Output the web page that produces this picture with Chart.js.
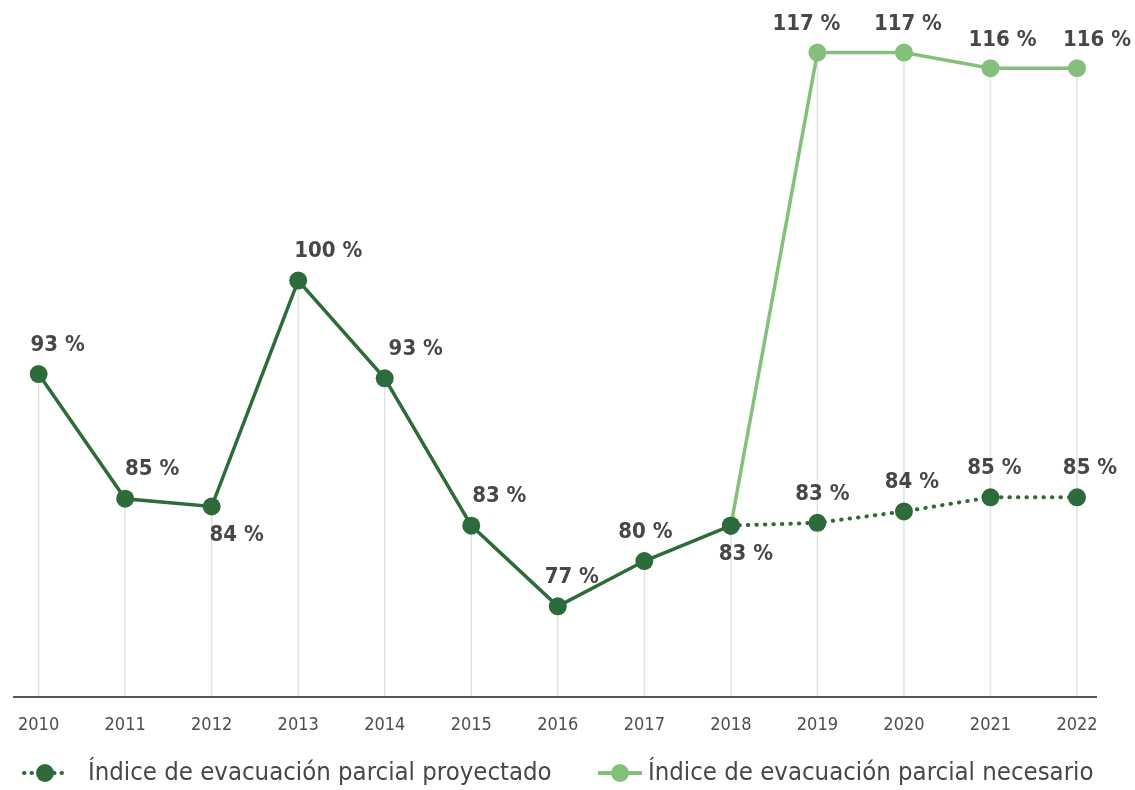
<!DOCTYPE html>
<html>
<head>
<meta charset="utf-8">
<script src="https://cdn.jsdelivr.net/npm/chart.js@4.4.1/dist/chart.umd.min.js"></script>
<style>
  html, body { margin: 0; padding: 0; background: #fff; }
  #wrap { width: 1135px; height: 790px; }
</style>
</head>
<body>
<div id="wrap"><canvas id="chart" width="1135" height="790"></canvas></div>
<script>
// Years on the x axis
const years = ["2010", "2011", "2012", "2013", "2014", "2015", "2016", "2017", "2018", "2019", "2020", "2021", "2022"];

// Plotted values and the printed labels
const projected = [93.4, 84.6, 84.05, 100, 93.1, 82.7, 77, 80.2, 82.7, 82.9, 83.7, 84.7, 84.7];
const projectedLabels = [93, 85, 84, 100, 93, 83, 77, 80, 83, 83, 84, 85, 85];
const required = [null, null, null, null, null, null, null, null, 82.7, 116.1, 116.1, 115.0, 115.0];
const requiredLabels = [null, null, null, null, null, null, null, null, null, 117, 117, 116, 116];

// Year from which the projected line turns dotted
const splitIndex = 8;

const legendNames = ["Índice de evacuación parcial proyectado", "Índice de evacuación parcial necesario"];

const DARK = "#2e6b3b";
const LIGHT = "#84c07b";
const TEXT = "#474747";
const FONT = "'DejaVu Sans Condensed', 'DejaVu Sans', sans-serif";

// Label placement tweaks (pixels), per point
const darkShiftX = [19, 27, 25, 30, 31, 28, 14, 1, 15, 5, 8, 4, 13];
const darkBelow = [false, false, true, false, false, false, false, false, true, false, false, false, false];
const lightShiftX = [0, 0, 0, 0, 0, 0, 0, 0, 0, -11, 4, 12, 20];

const solidPart = projected.map((v, i) => (i <= splitIndex ? v : null));
const dottedPart = projected.map((v, i) => (i >= splitIndex ? v : null));

// Vertical drop lines from the highest point of each year to the axis
const dropLines = {
  id: "dropLines",
  beforeDatasetsDraw(chart) {
    const { ctx, chartArea } = chart;
    ctx.save();
    ctx.strokeStyle = "#e2e2e2";
    ctx.lineWidth = 1.5;
    years.forEach((y, i) => {
      let top = chartArea.bottom;
      chart.data.datasets.forEach(ds => {
        const v = ds.data[i];
        if (v === null || v === undefined) return;
        const py = chart.scales.y.getPixelForValue(v);
        if (py < top) top = py;
      });
      const x = chart.scales.x.getPixelForValue(i);
      ctx.beginPath();
      ctx.moveTo(x, top);
      ctx.lineTo(x, chartArea.bottom);
      ctx.stroke();
    });
    // axis line
    ctx.strokeStyle = "#555";
    ctx.lineWidth = 2;
    ctx.beginPath();
    ctx.moveTo(13, chartArea.bottom);
    ctx.lineTo(1097, chartArea.bottom);
    ctx.stroke();
    ctx.restore();
  }
};

// Percentage labels next to the points
const valueLabels = {
  id: "valueLabels",
  afterDatasetsDraw(chart) {
    const { ctx } = chart;
    const xs = chart.scales.x, ys = chart.scales.y;
    ctx.save();
    ctx.fillStyle = TEXT;
    ctx.font = "bold 22px " + FONT;
    ctx.textAlign = "center";
    ctx.textBaseline = "middle";
    projectedLabels.forEach((lab, i) => {
      const x = xs.getPixelForValue(i) + darkShiftX[i];
      const y = ys.getPixelForValue(projected[i]) + (darkBelow[i] ? 29 : -29);
      ctx.fillText(lab + " %", x, y);
    });
    requiredLabels.forEach((lab, i) => {
      if (lab === null) return;
      const x = xs.getPixelForValue(i) + lightShiftX[i];
      const y = ys.getPixelForValue(required[i]) - 28;
      ctx.fillText(lab + " %", x, y);
    });
    ctx.restore();
  }
};

// Legend drawn at the bottom, line + marker + text
const bottomLegend = {
  id: "bottomLegend",
  afterDraw(chart) {
    const { ctx } = chart;
    const y = 773;
    ctx.save();
    // projected: dotted dark
    ctx.strokeStyle = DARK;
    ctx.lineWidth = 4;
    ctx.lineCap = "round";
    ctx.setLineDash([0.5, 7]);
    ctx.beginPath();
    ctx.moveTo(24, y);
    ctx.lineTo(68, y);
    ctx.stroke();
    ctx.setLineDash([]);
    ctx.fillStyle = DARK;
    ctx.beginPath();
    ctx.arc(45, y, 9, 0, Math.PI * 2);
    ctx.fill();
    // required: solid light
    ctx.strokeStyle = LIGHT;
    ctx.lineWidth = 4;
    ctx.lineCap = "butt";
    ctx.beginPath();
    ctx.moveTo(598, y);
    ctx.lineTo(642, y);
    ctx.stroke();
    ctx.fillStyle = LIGHT;
    ctx.beginPath();
    ctx.arc(620, y, 9, 0, Math.PI * 2);
    ctx.fill();
    // texts
    ctx.fillStyle = TEXT;
    ctx.font = "25.5px " + FONT;
    ctx.textBaseline = "middle";
    ctx.textAlign = "left";
    ctx.fillText(legendNames[0], 88, y);
    ctx.fillText(legendNames[1], 648, y);
    ctx.restore();
  }
};

new Chart(document.getElementById("chart"), {
  type: "line",
  data: {
    labels: years,
    datasets: [
      {
        label: legendNames[0],
        data: solidPart,
        borderColor: DARK,
        backgroundColor: DARK,
        borderWidth: 3.5,
        pointRadius: 9,
        pointHoverRadius: 9,
        pointBorderWidth: 0,
        tension: 0,
        order: 1
      },
      {
        label: legendNames[0] + " (dotted)",
        data: dottedPart,
        borderColor: DARK,
        backgroundColor: DARK,
        borderWidth: 4,
        borderDash: [0.5, 8],
        borderCapStyle: "round",
        pointRadius: 9,
        pointHoverRadius: 9,
        pointBorderWidth: 0,
        tension: 0,
        order: 2
      },
      {
        label: legendNames[1],
        data: required,
        borderColor: LIGHT,
        backgroundColor: LIGHT,
        borderWidth: 3.5,
        pointRadius: required.map((v, i) => (i <= splitIndex ? 0 : 9)),
        pointHoverRadius: 9,
        pointBorderWidth: 0,
        tension: 0,
        order: 3
      }
    ]
  },
  options: {
    responsive: false,
    animation: false,
    spanGaps: false,
    layout: { padding: { top: 20, left: 29, right: 58, bottom: 53 } },
    plugins: {
      legend: { display: false },
      tooltip: { enabled: false }
    },
    scales: {
      x: {
        offset: false,
        grid: { display: false, drawTicks: false },
        border: { display: false },
        afterFit(scale) { scale.height = 40; },
        ticks: {
          padding: 18,
          color: "#4d4d4d",
          font: { family: FONT, size: 18 },
          maxRotation: 0,
          autoSkip: false
        }
      },
      y: {
        display: false,
        min: 70.6,
        max: 118.4
      }
    }
  },
  plugins: [dropLines, valueLabels, bottomLegend]
});
</script>
</body>
</html>
